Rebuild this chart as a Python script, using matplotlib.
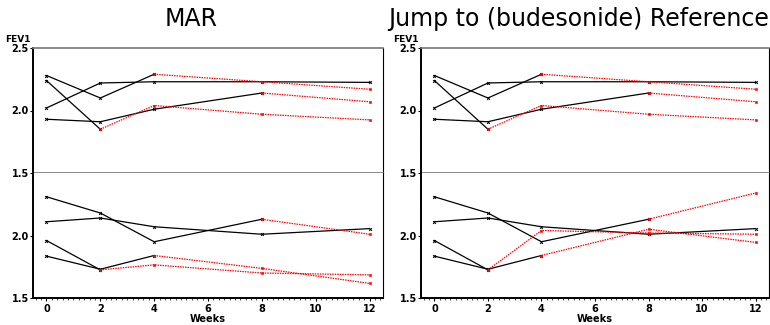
import numpy as np
import matplotlib
matplotlib.use("Agg")
import matplotlib.pyplot as plt
from matplotlib.ticker import MultipleLocator

# ── data ────────────────────────────────────────────────────────────────
weeks = [0, 2, 4, 8, 12]

# upper group (reference arm): observed values until dropout, then imputed
top_obs = [
    [2.28, 2.10, 2.29],
    [2.02, 2.22, 2.23, 2.23, 2.225],
    [2.24, 1.85],
    [1.93, 1.91, 2.01, 2.14],
]
top_imp = [
    [2.23, 2.17],
    [],
    [2.04, 1.97, 1.925],
    [2.07],
]

# lower group (active arm)
bot_obs = [
    [2.31, 2.18, 1.95, 2.13],
    [2.11, 2.14, 2.07, 2.01, 2.055],
    [1.96, 1.725],
    [1.835, 1.73, 1.84],
]
bot_imp_mar = [
    [2.01],
    [],
    [1.765, 1.70, 1.685],
    [1.737, 1.617],
]
bot_imp_j2r = [
    [2.34],
    [],
    [2.04, 2.02, 2.01],
    [2.05, 1.945],
]

titles = ["MAR", "Jump to (budesonide) Reference"]
panel_imps = [bot_imp_mar, bot_imp_j2r]

W, H = 770, 325
RED = "#ff0000"
GRID_GRAY = "#777777"


def draw_subjects(ax, obs, imp):
    for o, im in zip(obs, imp):
        k = len(o)
        ax.plot(weeks[:k], o, color="black", lw=0.9, marker="x", ms=2.0, mew=0.7, zorder=3)
        if im:
            ax.plot(weeks[k - 1:], [o[-1]] + im, color=RED, lw=0.9, ls=(0, (1.2, 0.8)),
                    marker="s", ms=1.8, mew=0.4, zorder=4)


def style_axis(ax, yticks, bottom):
    ax.set_xlim(-0.5, 12.5)
    ax.set_ylim(1.5, 2.5)
    ax.set_yticks(yticks)
    ax.set_yticklabels([f"{t:.1f}" for t in yticks], fontweight="bold", fontsize=7)
    ax.yaxis.set_minor_locator(MultipleLocator(0.1))
    ax.tick_params(axis="y", which="major", length=2, width=0.8, pad=1)
    ax.tick_params(axis="y", which="minor", length=1, width=0.5)
    ax.spines["left"].set_linewidth(1.4)
    ax.spines["right"].set_linewidth(0.8)
    ax.spines["top"].set_color(GRID_GRAY)
    ax.spines["top"].set_linewidth(1.2)
    if bottom:
        ax.spines["top"].set_visible(False)
        ax.spines["bottom"].set_linewidth(1.4)
        ax.set_xticks([0, 2, 4, 6, 8, 10, 12])
        ax.set_xticklabels([str(t) for t in [0, 2, 4, 6, 8, 10, 12]], fontweight="bold", fontsize=7)
        ax.xaxis.set_minor_locator(MultipleLocator(0.2))
        ax.tick_params(axis="x", which="major", length=2.5, width=0.8, pad=2)
        ax.tick_params(axis="x", which="minor", length=1.2, width=0.5)
    else:
        ax.spines["bottom"].set_color(GRID_GRAY)
        ax.spines["bottom"].set_linewidth(1.2)
        ax.set_xticks([])


fig = plt.figure(figsize=(W / 100, H / 100), dpi=100)

panels = [(33, 383), (421, 769)]
for (x0, x1), title, bimp in zip(panels, titles, panel_imps):
    left = x0 / W
    width = (x1 - x0) / W
    ax_top = fig.add_axes([left, (H - 173) / H, width, 125 / H])
    ax_bot = fig.add_axes([left, (H - 298) / H, width, 125 / H])

    draw_subjects(ax_top, top_obs, top_imp)
    draw_subjects(ax_bot, bot_obs, bimp)
    style_axis(ax_top, [1.5, 2.0, 2.5], bottom=False)
    style_axis(ax_bot, [1.5, 2.0], bottom=True)

    ax_bot.set_xlabel("Weeks", fontweight="bold", fontsize=7, labelpad=0)
    fig.text((x0 - 28) / W, 1 - 39 / H, "FEV1", fontweight="bold", fontsize=6.5,
             ha="left", va="center")
    fig.text((x0 - 33 + x1) / 2 / W, 1 - 19 / H, title, fontsize=17, ha="center", va="center")

fig.savefig("out.png", dpi=100)
